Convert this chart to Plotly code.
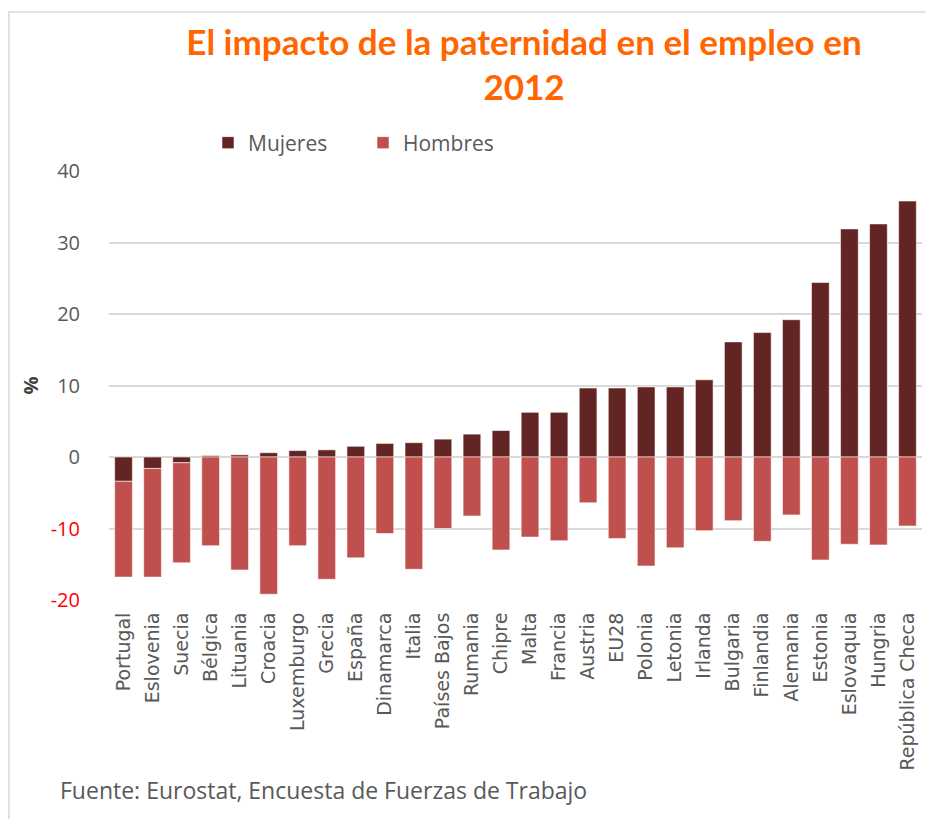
import plotly.graph_objects as go

paises = ["Portugal", "Eslovenia", "Suecia", "Bélgica", "Lituania", "Croacia", "Luxemburgo",
          "Grecia", "España", "Dinamarca", "Italia", "Países Bajos", "Rumania", "Chipre",
          "Malta", "Francia", "Austria", "EU28", "Polonia", "Letonia", "Irlanda", "Bulgaria",
          "Finlandia", "Alemania", "Estonia", "Eslovaquia", "Hungria", "República Checa"]

mujeres = [-3.4, -1.6, -0.8, 0.2, 0.3, 0.6, 0.9, 1.0, 1.5, 1.9, 2.0, 2.5, 3.2, 3.7,
           6.25, 6.25, 9.65, 9.65, 9.8, 9.8, 10.8, 16.1, 17.4, 19.2, 24.4, 31.9, 32.6, 35.8]

# Hombres: valor visible de cada barra (apilada sobre la de mujeres cuando ambas son negativas)
hombres = [-13.4, -15.2, -14.0, -12.4, -15.8, -19.2, -12.4, -17.1, -14.1, -10.7, -15.7,
           -10.0, -8.25, -13.0, -11.2, -11.7, -6.4, -11.4, -15.25, -12.7, -10.3, -8.9,
           -11.8, -8.1, -14.4, -12.2, -12.3, -9.65]

y_ticks = [-20, -10, 0, 10, 20, 30, 40]
y_ticktext = [f"<span style='color:#FF0000'>{v}</span>" if v < 0 else str(v) for v in y_ticks]

# page offset of 8px (body margin) compensated in the margins
L, T, PW, PH = 101, 163, 813, 429

def px_x(p):  # page pixel -> paper x
    return (p - 8 - L) / PW

def px_y(p):  # page pixel -> paper y
    return (T + PH - (p - 8)) / PH

fig = go.Figure()
fig.add_trace(go.Bar(x=paises, y=mujeres, name="Mujeres",
                     marker=dict(color="#632523", line=dict(color="rgba(255,255,255,0.7)", width=0.8))))
fig.add_trace(go.Bar(x=paises, y=hombres, name="Hombres",
                     marker=dict(color="#C0504D", line=dict(color="rgba(255,255,255,0.7)", width=0.8))))

fig.update_layout(
    width=934, height=819,
    barmode="relative",
    bargap=0.39,
    paper_bgcolor="white", plot_bgcolor="white",
    margin=dict(l=L, r=934 - L - PW, t=T, b=819 - T - PH),
    font=dict(family="Open Sans, sans-serif", color="#595959"),
    title=dict(text="El impacto de la paternidad en el empleo en<br>2012",
               font=dict(family="Lato, sans-serif", size=35, color="#FF6600", weight="bold"),
               x=516 / 934, xanchor="center", y=1 - 46.5 / 819, yanchor="middle"),
    legend=dict(orientation="h", x=px_x(208), xanchor="left", y=px_y(143), yanchor="middle",
                font=dict(size=21, color="#595959"), itemwidth=30,
                entrywidth=110, entrywidthmode="pixels", bgcolor="rgba(0,0,0,0)"),
    xaxis=dict(tickangle=-90, tickfont=dict(family="DejaVu Sans, sans-serif", size=19, color="#595959"),
               showline=False, showgrid=False, ticks="outside", ticklen=4,
               tickcolor="rgba(0,0,0,0)"),
    yaxis=dict(range=[-20, 40], tickvals=y_ticks, ticktext=y_ticktext,
               tickfont=dict(size=20, color="#595959"),
               showgrid=True, gridcolor="#D9D9D9", gridwidth=2,
               zeroline=True, zerolinecolor="#D9D9D9", zerolinewidth=2,
               showline=False, ticks="outside", ticklen=24, tickcolor="rgba(0,0,0,0)",
               title=dict(text="<b>%</b>", font=dict(size=20, color="#404040"), standoff=6)),
    showlegend=True,
)

fig.add_shape(type="rect", xref="paper", yref="paper",
              x0=px_x(9), x1=px_x(950),
              y0=px_y(840), y1=px_y(12),
              line=dict(color="#D9D9D9", width=1.5), fillcolor="rgba(0,0,0,0)", layer="below")

fig.add_annotation(text="Fuente: Eurostat, Encuesta de Fuerzas de Trabajo",
                   xref="paper", yref="paper", x=px_x(58), y=px_y(790),
                   xanchor="left", yanchor="middle", showarrow=False,
                   font=dict(size=23, color="#595959"))

fig.write_html("out.html")
